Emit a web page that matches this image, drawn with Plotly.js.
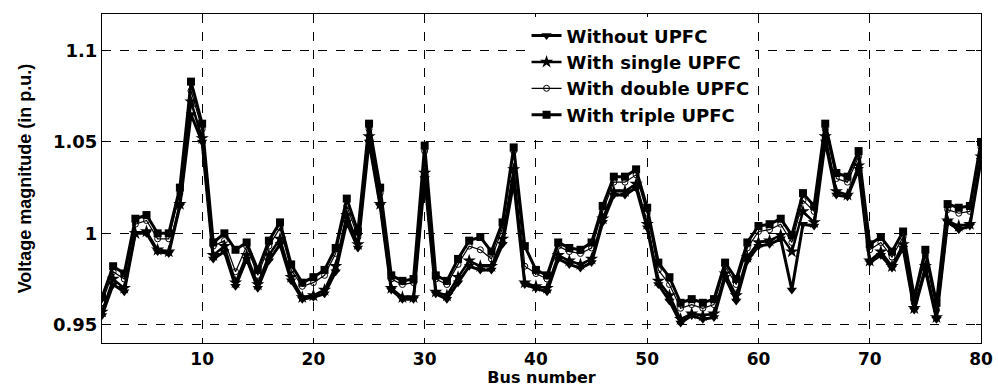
<!DOCTYPE html>
<html>
<head>
<meta charset="utf-8">
<script src="https://cdn.plot.ly/plotly-3.0.1.min.js"></script>
<style>html,body{margin:0;padding:0;background:#fff;}#chart{width:998px;height:387px;}</style>
</head>
<body>
<div id="chart"></div>
<script>
const buses = Array.from({length: 80}, (_, i) => i + 1);

const withoutUPFC = [0.955,0.972,0.968,1.000,1.000,0.990,0.989,1.015,1.065,1.050,
  0.986,0.990,0.971,0.986,0.970,0.985,0.994,0.974,0.964,0.965,
  0.967,0.979,1.006,0.992,1.050,1.015,0.969,0.964,0.964,1.030,
  0.967,0.964,0.973,0.982,0.980,0.980,0.994,1.028,0.972,0.970,
  0.968,0.986,0.983,0.981,0.984,1.006,1.021,1.021,1.025,1.003,
  0.972,0.963,0.951,0.955,0.953,0.954,0.976,0.963,0.985,0.993,
  0.994,0.997,0.969,1.005,1.004,1.050,1.021,1.020,1.035,0.984,
  0.988,0.981,0.992,0.958,0.980,0.953,1.006,1.002,1.004,1.040];

const singleUPFC = [0.957,0.975,0.970,1.000,1.001,0.991,0.990,1.016,1.072,1.052,
  0.988,0.993,0.973,0.988,0.972,0.988,0.997,0.976,0.965,0.966,
  0.969,0.982,1.010,0.994,1.053,1.016,0.970,0.965,0.965,1.033,
  0.968,0.966,0.976,0.985,0.982,0.982,0.997,1.035,0.973,0.971,
  0.970,0.988,0.985,0.983,0.986,1.008,1.023,1.023,1.027,1.005,
  0.974,0.966,0.953,0.956,0.955,0.956,0.978,0.966,0.987,0.995,
  0.996,0.999,0.990,1.012,1.006,1.053,1.023,1.021,1.037,0.985,
  0.990,0.982,0.994,0.959,0.982,0.954,1.007,1.004,1.005,1.042];

const doubleUPFC = [0.962,0.979,0.975,1.005,1.007,0.997,0.997,1.022,1.078,1.057,
  0.993,0.996,0.979,0.993,0.977,0.993,1.003,0.980,0.971,0.973,
  0.977,0.989,1.015,0.998,1.057,1.022,0.975,0.972,0.973,1.045,
  0.975,0.972,0.983,0.993,0.991,0.986,1.003,1.045,0.982,0.978,
  0.975,0.993,0.990,0.989,0.992,1.012,1.028,1.028,1.032,1.011,
  0.980,0.972,0.959,0.961,0.959,0.961,0.982,0.972,0.992,1.001,
  1.002,1.005,0.995,1.018,1.012,1.057,1.030,1.028,1.042,0.991,
  0.995,0.987,0.998,0.962,0.988,0.958,1.013,1.011,1.012,1.047];

const tripleUPFC = [0.965,0.982,0.978,1.008,1.010,1.000,1.000,1.025,1.083,1.060,
  0.995,1.000,0.991,0.995,0.980,0.996,1.006,0.983,0.973,0.976,
  0.980,0.992,1.019,1.001,1.060,1.025,0.977,0.974,0.975,1.048,
  0.977,0.974,0.986,0.996,0.998,0.990,1.006,1.047,0.993,0.980,
  0.977,0.995,0.992,0.991,0.995,1.015,1.031,1.031,1.035,1.014,
  0.984,0.976,0.962,0.964,0.962,0.964,0.984,0.975,0.995,1.004,
  1.005,1.008,0.999,1.022,1.015,1.060,1.033,1.031,1.045,0.994,
  0.998,0.990,1.001,0.965,0.991,0.962,1.016,1.014,1.015,1.050];

const seriesNames = ['Without UPFC', 'With single UPFC', 'With double UPFC', 'With triple UPFC'];
const xTickVals = [10, 20, 30, 40, 50, 60, 70, 80];
const xTickText = ['10', '20', '30', '40', '50', '60', '70', '80'];
const yTickVals = [0.95, 1.0, 1.05, 1.1];
const yTickText = ['0.95', '1', '1.05', '1.1'];

const wide = 'DejaVu Sans, Liberation Sans, Arial, sans-serif';
const arial = 'Liberation Sans, Arial, sans-serif';

const traces = [
  {x: buses, y: withoutUPFC, name: seriesNames[0], mode: 'lines+markers',
   line: {color: '#000', width: 3}, marker: {symbol: 'triangle-down', size: 9, color: '#000'}},
  {x: buses, y: singleUPFC, name: seriesNames[1], mode: 'lines+markers',
   line: {color: '#000', width: 2.5}, marker: {symbol: 'star', size: 10, color: '#000'}},
  {x: buses, y: doubleUPFC, name: seriesNames[2], mode: 'lines+markers',
   line: {color: '#000', width: 1.2}, marker: {symbol: 'circle-open', size: 6, color: '#000', line: {width: 1, color: '#000'}}},
  {x: buses, y: tripleUPFC, name: seriesNames[3], mode: 'lines+markers',
   line: {color: '#000', width: 3}, marker: {symbol: 'square', size: 8, color: '#000'}}
];

const layout = {
  width: 998, height: 387,
  margin: {l: 102, r: 17, t: 14, b: 44},
  paper_bgcolor: '#fff', plot_bgcolor: '#fff',
  showlegend: true,
  legend: {x: 0.483, y: 0.99, xanchor: 'left', yanchor: 'top',
    bgcolor: '#fff', borderwidth: 0, font: {family: wide, size: 18, weight: 'bold', color: '#000'},
    tracegroupgap: 0, itemwidth: 30},
  xaxis: {
    range: [1, 80], tickvals: xTickVals, ticktext: xTickText,
    showgrid: true, gridcolor: '#000', griddash: 'dash', gridwidth: 1,
    showline: true, linecolor: '#000', linewidth: 1, mirror: 'allticks',
    ticks: 'inside', ticklen: 5, tickcolor: '#000', zeroline: false,
    ticklabelstandoff: 1,
    tickfont: {family: wide, size: 17, weight: 'bold', color: '#000'},
    title: {text: 'Bus number', font: {family: wide, size: 16, weight: 'bold', color: '#000'}, standoff: 2}
  },
  yaxis: {
    range: [0.94, 1.12], tickvals: yTickVals, ticktext: yTickText,
    showgrid: true, gridcolor: '#000', griddash: 'dash', gridwidth: 1,
    showline: true, linecolor: '#000', linewidth: 1, mirror: 'allticks',
    ticks: 'inside', ticklen: 5, tickcolor: '#000', zeroline: false,
    tickfont: {family: wide, size: 18, weight: 'bold', color: '#000'},
    title: {text: 'Voltage magnitude (in p.u.)', font: {family: arial, size: 18, weight: 'bold', color: '#000'}, standoff: 16}
  }
};

Plotly.newPlot('chart', traces, layout, {displayModeBar: false, staticPlot: true});
</script>
</body>
</html>
